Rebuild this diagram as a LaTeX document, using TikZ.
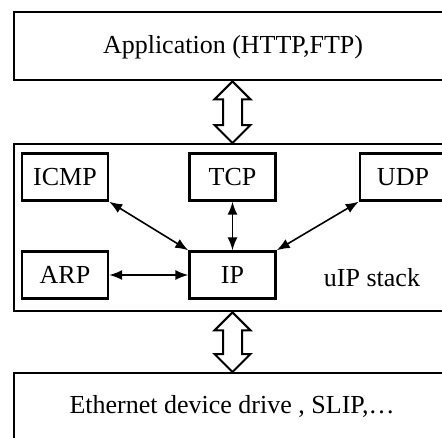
\documentclass[tikz,border=0pt]{standalone}
\usepackage{fontspec}
\setmainfont{Liberation Serif}
\usetikzlibrary{arrows.meta,calc}

\begin{document}
\begin{tikzpicture}[x=1pt,y=-1pt,
	every node/.style={font=\fontsize{26}{31}\selectfont},
	layer/.style={draw, line width=2.4pt, anchor=north west, inner sep=0pt},
	proto/.style={draw, line width=2.4pt, minimum width=86pt, minimum height=47pt, inner sep=0pt},
	link/.style={line width=1.6pt, {Latex[length=13pt,width=10pt]}-{Latex[length=13pt,width=10pt]}},
	bigarrow/.style={draw, line width=2pt, line join=miter}]
	\useasboundingbox (0,0) rectangle (442,437);
	\clip (0,0) rectangle (442,437);
	% the three layers
	\node[layer, minimum width=470pt, minimum height=68pt] (app) at (13,11) {};
	\node[layer, minimum width=470pt, minimum height=167pt] (stack) at (13,143) {};
	\node[layer, minimum width=470pt, minimum height=90pt] (drv) at (13,372) {};
	\node (applbl) at (233,47) {Application (HTTP,FTP)};
	\node (drvlbl) at (232,406) {Ethernet device drive , SLIP,…};
	\node (stacklbl) at (372,278) {uIP stack};
	% protocols inside the stack
	\node[proto] (icmp) at (65,177) {ICMP};
	\node[proto] (tcp) at (232.5,177) {TCP};
	\node[proto] (udp) at (403,177) {UDP};
	\node[proto] (arp) at (65,275) {ARP};
	\node[proto] (ip) at (232.5,275) {IP};
	\draw[link] (icmp.south east) -- (ip.north west);
	\draw[link] (tcp) -- (ip);
	\draw[link] (udp.south west) -- (ip.north east);
	\draw[link] (arp) -- (ip);
	% hollow arrows between layers
	\foreach \a/\b in {app/stack, stack/drv} {
		\draw[bigarrow] (\a.south -| tcp) -- ($(\a.south -| tcp)+(-18,18)$) -- ($(\a.south -| tcp)+(-9.5,18)$)
			-- ($(\b.north -| tcp)+(-9.5,-18)$) -- ($(\b.north -| tcp)+(-18,-18)$) -- (\b.north -| tcp)
			-- ($(\b.north -| tcp)+(18,-18)$) -- ($(\b.north -| tcp)+(9.5,-18)$)
			-- ($(\a.south -| tcp)+(9.5,18)$) -- ($(\a.south -| tcp)+(18,18)$) -- cycle;
	}
\end{tikzpicture}
\end{document}
